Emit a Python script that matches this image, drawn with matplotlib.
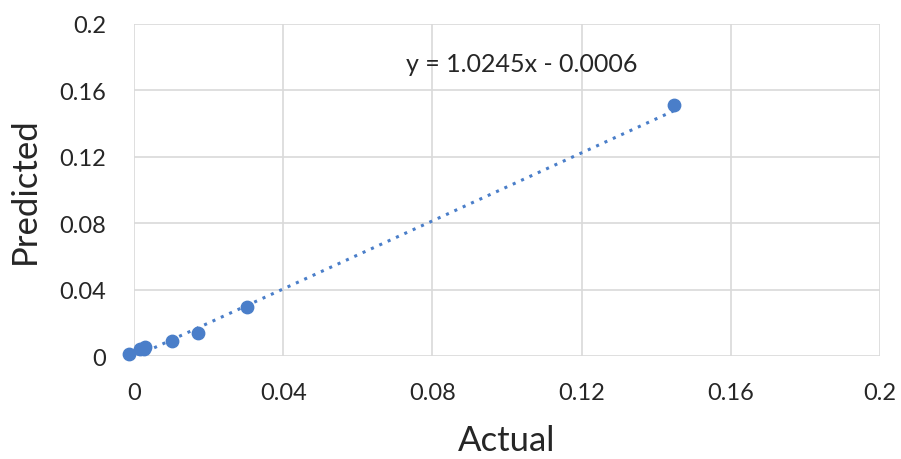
import numpy as np
import matplotlib.pyplot as plt

actual = [-0.0013, 0.0015, 0.003, 0.0028, 0.0102, 0.0172, 0.0302, 0.1448]
predicted = [0.0012, 0.0045, 0.0055, 0.0040, 0.0093, 0.0139, 0.0297, 0.1514]
slope, intercept = 1.0245, -0.0006
ticks = [0, 0.04, 0.08, 0.12, 0.16, 0.2]
tick_labels = ['0', '0.04', '0.08', '0.12', '0.16', '0.2']

plt.rcParams['font.family'] = ['Lato', 'DejaVu Sans']
blue = '#4a7ec9'

fig = plt.figure(figsize=(9.01, 4.6), dpi=100)
ax = fig.add_axes([0.1487, 0.2239, 0.828, 0.722])

# Trendline (dotted)
xs = np.array([min(actual), max(actual)])
ax.plot(xs, slope * xs + intercept, linestyle=(0, (1, 2)), color=blue, linewidth=2.2, zorder=2)
ax.scatter(actual, predicted, s=80, color=blue, zorder=3, clip_on=False)

ax.set_xlim(0, 0.2)
ax.set_ylim(0, 0.2)
ax.set_xticks(ticks)
ax.set_xticklabels(tick_labels)
ax.set_yticks(ticks)
ax.set_yticklabels(tick_labels)
ax.tick_params(length=0, labelsize=17, colors='#262626')
ax.tick_params(axis='y', pad=20)
ax.tick_params(axis='x', pad=19)
for s in ax.spines.values():
    s.set_visible(False)
ax.grid(True, color='#d9d9d9', linewidth=1.2)
ax.set_axisbelow(True)

ax.set_xlabel('Actual', fontsize=25, color='#262626', labelpad=15)
ax.set_ylabel('Predicted', fontsize=25, color='#262626', labelpad=13)
ax.text(0.104, 0.176, f'y = {slope}x - {abs(intercept):.4f}', fontsize=18,
        color='#262626', ha='center', va='center')

fig.savefig('out.png', dpi=100)
